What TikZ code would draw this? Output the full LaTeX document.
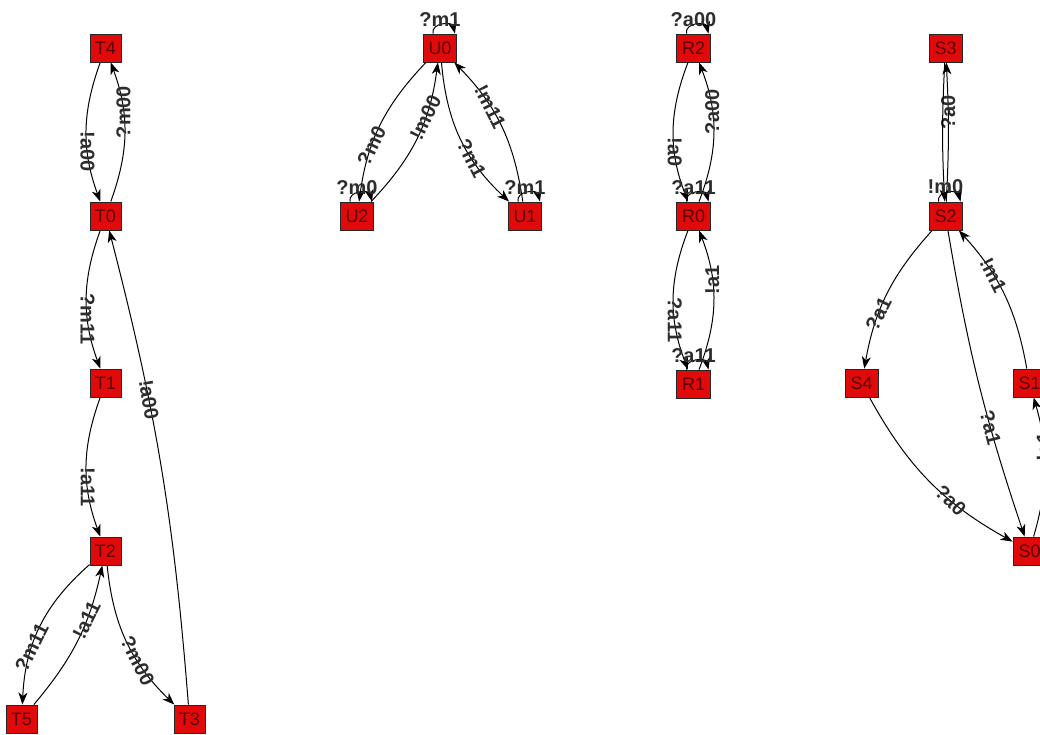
\documentclass[tikz,border=0pt]{standalone}
\usepackage{fontspec}
\setmainfont{Liberation Sans}
\usetikzlibrary{arrows.meta,backgrounds}
\definecolor{nodered}{RGB}{224,10,10}
\definecolor{nodetext}{RGB}{90,0,0}
\definecolor{lbl}{RGB}{45,45,45}
\begin{document}
\begin{tikzpicture}[x=1pt,y=1pt,
  state/.style={draw=black!85, line width=0.9pt, fill=nodered, text=nodetext,
    font=\fontsize{18}{18}\selectfont, minimum height=28pt, minimum width=31pt, inner sep=0pt},
  edge/.style={draw=black, line width=1pt, -{Stealth[length=12pt,width=9pt,inset=3.5pt]}},
  elabel/.style={pos=0.65, font=\fontsize{20}{20}\selectfont\bfseries, text=lbl, inner sep=0pt},
  llabel/.style={font=\fontsize{20}{20}\selectfont\bfseries, text=lbl, inner sep=0pt, anchor=south}
]
\useasboundingbox (0,0) rectangle (1040,735);
% T group
\node[state] (T4) at (105.5,687) {T4};
\node[state] (T0) at (105.5,519) {T0};
\node[state] (T1) at (105.5,352) {T1};
\node[state] (T2) at (105.5,184) {T2};
\node[state] (T5) at (21.5,16) {T5};
\node[state] (T3) at (189.5,16) {T3};
% U group
\node[state, minimum width=33pt] (U0) at (440,687) {U0};
\node[state, minimum width=33pt] (U2) at (357,519) {U2};
\node[state, minimum width=33pt] (U1) at (525,519) {U1};
% R group
\node[state, minimum width=34pt] (R2) at (693.5,687) {R2};
\node[state, minimum width=34pt] (R0) at (693.5,519) {R0};
\node[state, minimum width=34pt] (R1) at (693.5,351) {R1};
% S group
\node[state, minimum width=33pt] (S3) at (945.5,687) {S3};
\node[state, minimum width=33pt] (S2) at (945.5,519) {S2};
\node[state, minimum width=33pt] (S4) at (861.5,352) {S4};
\node[state, minimum width=33pt] (S1) at (1029.5,352) {S1};
\node[state, minimum width=33pt] (S0) at (1029.5,184) {S0};
% loop labels
\node[llabel] (U0l) at ([yshift=7pt]U0.north) {?m1};
\node[llabel] (U2l) at ([yshift=7pt]U2.north) {?m0};
\node[llabel] (U1l) at ([yshift=7pt]U1.north) {?m1};
\node[llabel] (R2l) at ([yshift=7pt]R2.north) {?a00};
\node[llabel] (R0l) at ([yshift=7pt]R0.north) {?a11};
\node[llabel] (R1l) at ([yshift=7pt]R1.north) {?a11};
\node[llabel] (S2l) at ([yshift=8pt]S2.north) {!m0};

\begin{pgfonlayer}{background}
% T edges
\draw[edge] (T4) to[bend right=20] node[elabel, rotate=-90] {!a00} (T0);
\draw[edge] (T0) to[bend right=20] node[elabel, rotate=90] {?m00} (T4);
\draw[edge] (T0) to[bend right=20] node[elabel, rotate=-90] {?m11} (T1);
\draw[edge] (T1) to[bend right=20] node[elabel, rotate=-90] {!a11} (T2);
\draw[edge] (T2) to[bend right=23] node[elabel, rotate=63.4] {?m11} (T5);
\draw[edge] (T5) to[bend right=14] node[elabel, rotate=63.4] {!a11} (T2);
\draw[edge] (T2) to[bend right=20] node[elabel, rotate=-63.4] {?m00} (T3);
\draw[edge] (T3) to[bend right=5] node[elabel, rotate=-80.5] {!a00} (T0);
% U edges
\draw[edge] (U0) to[bend right=18] node[elabel, rotate=63.7] {?m0} (U2);
\draw[edge] (U2) to[bend right=18] node[elabel, rotate=63.7] {!m00} (U0);
\draw[edge] (U0) to[bend right=21] node[elabel, rotate=-63.2] {?m1} (U1);
\draw[edge] (U1) to[bend right=18] node[elabel, rotate=-63.2] {!m11} (U0);
\draw[edge] ([xshift=-7pt]U0.north) .. controls +(-2,11) and +(-3,12) .. ([xshift=15pt]U0.north);
\draw[edge] ([xshift=-7pt]U2.north) .. controls +(-2,11) and +(-3,12) .. ([xshift=15pt]U2.north);
\draw[edge] ([xshift=-7pt]U1.north) .. controls +(-2,11) and +(-3,12) .. ([xshift=15pt]U1.north);
% R edges
\draw[edge] (R2) to[bend right=21] node[elabel, rotate=-90] {!a0} (R0);
\draw[edge] (R0) to[bend right=21] node[elabel, rotate=90] {?a00} (R2);
\draw[edge] (R0) to[bend right=21] node[elabel, rotate=-90] {?a11} (R1);
\draw[edge] (R1) to[bend right=21] node[elabel, rotate=90] {!a1} (R0);
\draw[edge] ([xshift=-7pt]R2.north) .. controls +(-2,11) and +(-3,12) .. ([xshift=15pt]R2.north);
\draw[edge] ([xshift=-7pt]R0.north) .. controls +(-2,11) and +(-3,12) .. ([xshift=15pt]R0.north);
\draw[edge] ([xshift=-7pt]R1.north) .. controls +(-2,11) and +(-3,12) .. ([xshift=15pt]R1.north);
% S edges
\draw[edge] (S2) to[bend right=3] node[elabel, rotate=90] {?a0} (S3);
\draw[edge] (S3) to[bend right=3] (S2);
\draw[edge] (S2) to[bend right=16] node[elabel, rotate=63.3] {?a1} (S4);
\draw[edge] (S4) to[bend right=16] node[elabel, rotate=-45] {?a0} (S0);
\draw[edge] (S2) to[bend right=4.5] node[elabel, rotate=-75.9] {?a1} (S0);
\draw[edge] (S1) to[bend right=16] node[elabel, rotate=-63.3] {!m1} (S2);
\draw[edge] (S0) to[bend right=16] node[elabel, rotate=90] {!a1} (S1);
\draw[edge] ([xshift=-7pt]S2.north) .. controls +(-2,11) and +(-3,12) .. ([xshift=15pt]S2.north);
\end{pgfonlayer}
\end{tikzpicture}
\end{document}
